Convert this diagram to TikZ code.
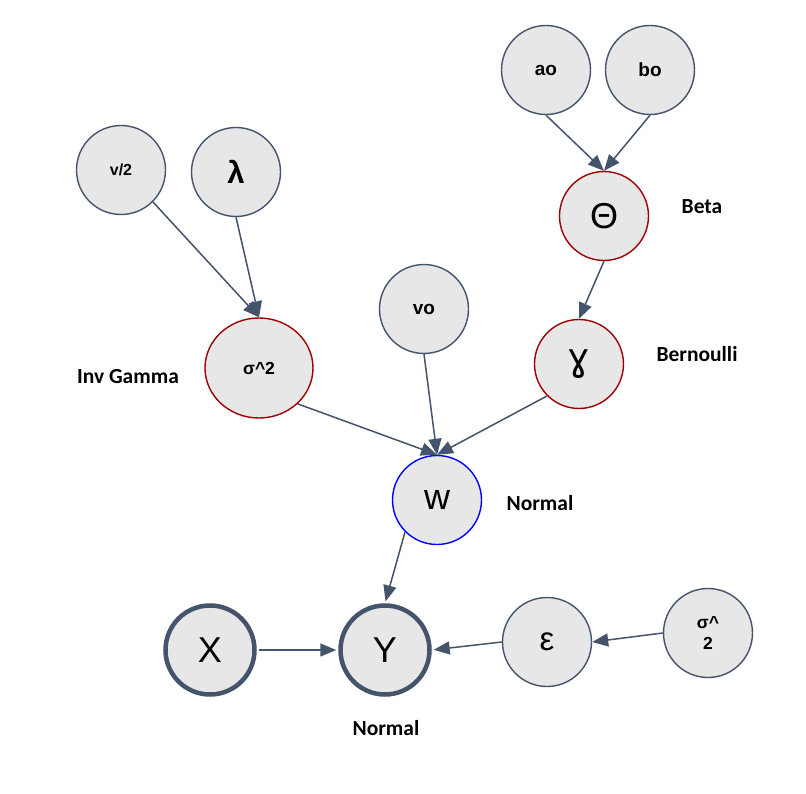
\documentclass[tikz,border=0pt]{standalone}
\usepackage{fontspec}
\setmainfont{Liberation Sans}
\newfontfamily\labfont{Carlito}
\newfontfamily\dvfont{DejaVu Sans}
\usetikzlibrary{arrows.meta,shapes.geometric}
\definecolor{edgec}{HTML}{44546A}
\definecolor{nfill}{HTML}{E7E7E7}
\definecolor{dred}{HTML}{A00000}
\begin{document}
\begin{tikzpicture}[x=1pt,y=-1pt,
  var/.style={circle,draw=edgec,fill=nfill,line width=1.4pt,minimum size=89pt,inner sep=0pt,align=center},
  redvar/.style={var,draw=dred},
  bluevar/.style={var,draw=blue},
  obs/.style={var,line width=4.5pt},
  conn/.style={draw=edgec,line width=1.5pt,-{Triangle[length=16pt,width=13pt]}},
  lab/.style={font=\labfont\bfseries\fontsize{21.5}{25}\selectfont},
  smalltxt/.style={font=\bfseries\fontsize{17.5}{21}\selectfont},
  midtxt/.style={font=\bfseries\fontsize{19}{22}\selectfont},
  bigtxt/.style={font=\fontsize{36}{40}\selectfont}]
\useasboundingbox (0,0) rectangle (806,794);
\fill[white] (0,0) rectangle (806,794);

% nodes
\node[var,midtxt] (ao) at (546,70) {ao};
\node[var,midtxt] (bo) at (650,70) {bo};
\node[redvar,bigtxt] (th) at (604,216) {Θ};
\node[var,font=\bfseries\fontsize{16}{19}\selectfont] (v2) at (121,170) {v/2};
\node[var,font=\bfseries\fontsize{31}{34}\selectfont] (lam) at (236,172) {λ};
\node[ellipse,draw=dred,fill=nfill,line width=1.4pt,minimum width=108pt,minimum height=100pt,inner sep=0pt,smalltxt] (s2) at (259,368) {σ\textasciicircum2};
\node[var,midtxt] (vo) at (424,309) {vo};
\node[redvar,font=\dvfont\fontsize{38}{42}\selectfont] (ga) at (579,364) {ɣ};
\node[bluevar,bigtxt] (w) at (437,500) {w};
\node[obs,bigtxt] (X) at (210,650) {X};
\node[obs,bigtxt] (Y) at (385,650) {Y};
\node[var,font=\fontsize{33}{36}\selectfont] (eps) at (547,642) {ε};
\node[var,smalltxt] (s2r) at (708,633) {σ\textasciicircum\\2};

% labels
\node[lab] (lbeta) at (702,207) {Beta};
\node[lab] (lbern) at (697,354) {Bernoulli};
\node[lab] (lig) at (128,377) {Inv Gamma};
\node[lab] (lnw) at (540,503) {Normal};
\node[lab] (lny) at (386,728) {Normal};

% connectors
\draw[conn] (ao.south) -- (th.north);
\draw[conn] (bo.south) -- (th.north);
\draw[conn] (v2.south east) -- (s2.north);
\draw[conn] (lam.south) -- (s2.north);
\draw[conn] (th.south) -- (ga.north);
\draw[conn] (s2.south east) -- (w.north);
\draw[conn] (vo.south) -- (w.north);
\draw[conn] (ga.south west) -- (w.north);
\draw[conn,shorten >=2pt] (w.south west) -- (Y.north);
\draw[conn,shorten >=2pt,shorten <=2pt] (X.east) -- (Y.west);
\draw[conn,shorten >=2pt] (eps.west) -- (Y.east);
\draw[conn] (s2r.west) -- (eps.east);
\end{tikzpicture}
\end{document}
